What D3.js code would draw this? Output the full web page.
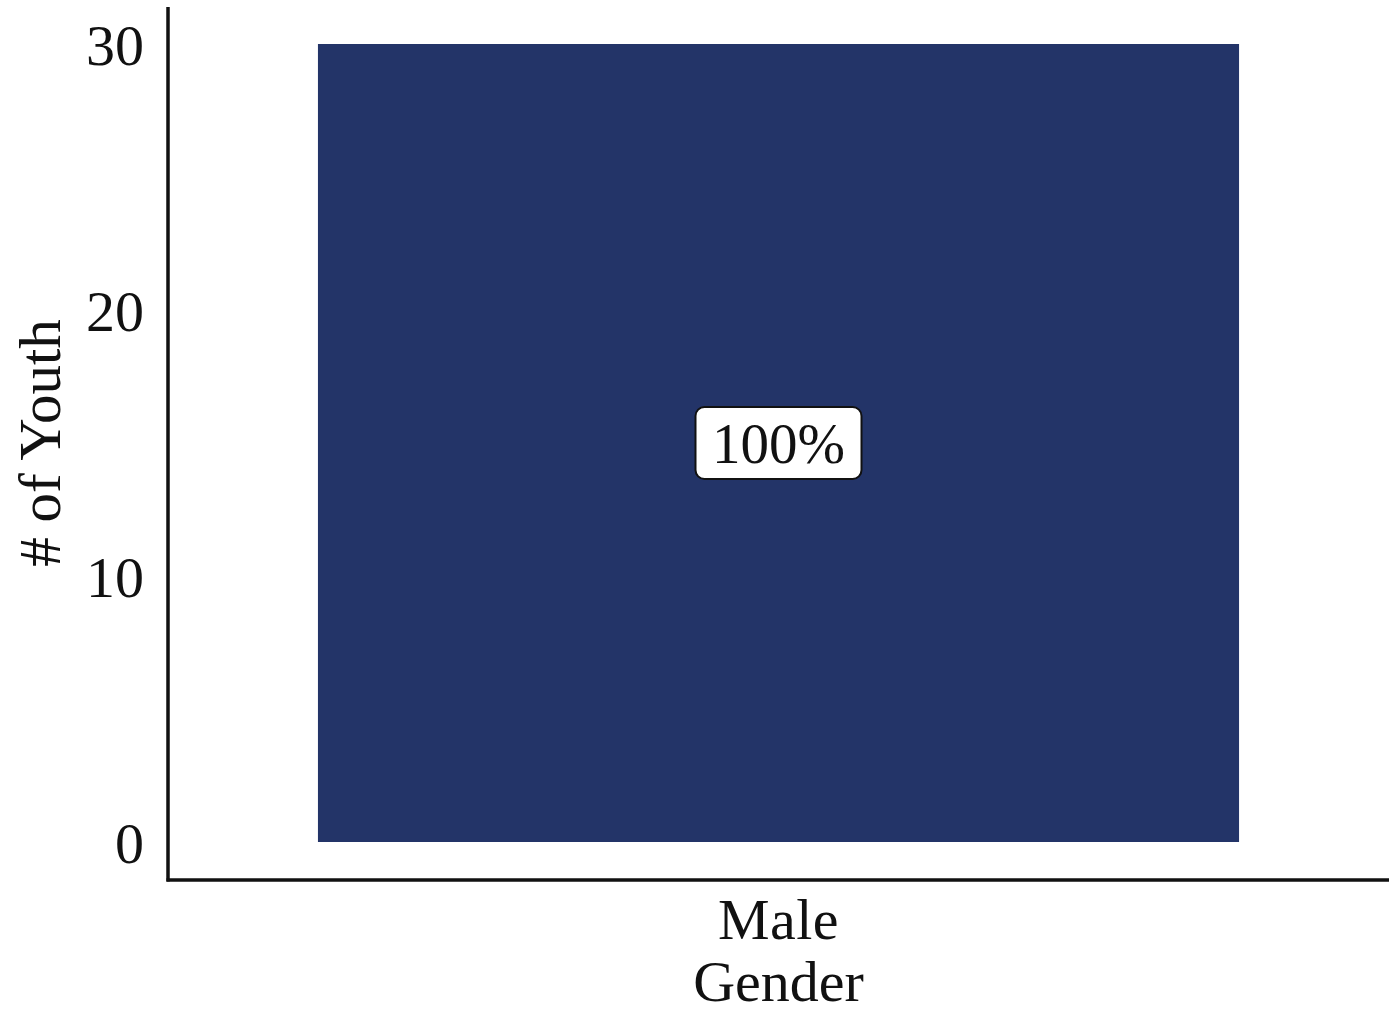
<!DOCTYPE html>
<html>
<head>
<meta charset="utf-8">
<script src="https://cdn.jsdelivr.net/npm/d3@7"></script>
<style>
  html, body { margin: 0; padding: 0; background: #fff; }
  svg text { font-family: "Liberation Serif", "Times New Roman", serif; fill: #111; }
</style>
</head>
<body>
<svg id="chart" width="1397" height="1016"></svg>
<script>
// Youth counts by gender
const categories = ["Male"];
const counts = [30];
const shareLabels = ["100%"];
const yTicks = [0, 10, 20, 30];
const xTitle = "Gender";
const yTitle = "# of Youth";

const svg = d3.select("#chart");
const plotLeft = 168, plotRight = 1389, plotTop = 44, plotBottom = 842;
const axisTop = 7, axisBottom = 880;
const fontSize = "58px";

const x = d3.scaleBand().domain(categories).range([plotLeft, plotRight]).padding(0.14);
const y = d3.scaleLinear().domain([0, 30]).range([plotBottom, plotTop]);

// bars
svg.append("g").selectAll("rect")
  .data(categories)
  .join("rect")
  .attr("x", d => x(d))
  .attr("width", x.bandwidth())
  .attr("y", (d, i) => y(counts[i]))
  .attr("height", (d, i) => y(0) - y(counts[i]))
  .attr("fill", "#233468");

// share labels in rounded boxes at mid-height
const lab = svg.append("g").selectAll("g")
  .data(categories)
  .join("g")
  .attr("transform", (d, i) => `translate(${x(d) + x.bandwidth() / 2},${y(counts[i] / 2)})`);
lab.append("rect")
  .attr("x", -83).attr("y", -36).attr("width", 166).attr("height", 72)
  .attr("rx", 9).attr("ry", 9)
  .attr("fill", "#fff").attr("stroke", "#111").attr("stroke-width", 2);
lab.append("text")
  .attr("text-anchor", "middle").attr("dy", "0.35em")
  .style("font-size", "57px")
  .text((d, i) => shareLabels[i]);

// y axis
const yAxis = svg.append("g")
  .attr("transform", `translate(${plotLeft},0)`)
  .call(d3.axisLeft(y).tickValues(yTicks).tickSize(0).tickPadding(24));
yAxis.select(".domain").remove();
yAxis.selectAll("text")
  .style("font-family", '"Liberation Serif", "Times New Roman", serif')
  .style("font-size", fontSize).attr("fill", "#111").attr("dy", "0.36em");

// x axis
const xAxis = svg.append("g")
  .attr("transform", `translate(0,${axisBottom})`)
  .call(d3.axisBottom(x).tickSize(0).tickPadding(18));
xAxis.select(".domain").remove();
xAxis.selectAll("text")
  .style("font-family", '"Liberation Serif", "Times New Roman", serif')
  .style("font-size", fontSize).attr("fill", "#111").attr("dy", "0.71em")
  .style("word-spacing", "0").style("letter-spacing", "0.5px");

// axis lines
svg.append("line")
  .attr("x1", plotLeft).attr("x2", plotLeft).attr("y1", axisTop).attr("y2", axisBottom + 1.5)
  .attr("stroke", "#111").attr("stroke-width", 3.5);
svg.append("line")
  .attr("x1", plotLeft - 1.5).attr("x2", plotRight).attr("y1", axisBottom).attr("y2", axisBottom)
  .attr("stroke", "#111").attr("stroke-width", 3.5);

// titles
svg.append("text")
  .attr("x", (plotLeft + plotRight) / 2).attr("y", 1001)
  .attr("text-anchor", "middle")
  .style("font-size", fontSize)
  .text(xTitle);
svg.append("text")
  .attr("transform", `translate(60,${(plotTop + plotBottom) / 2}) rotate(-90)`)
  .attr("text-anchor", "middle")
  .style("font-size", "59px")
  .text(yTitle);
</script>
</body>
</html>
